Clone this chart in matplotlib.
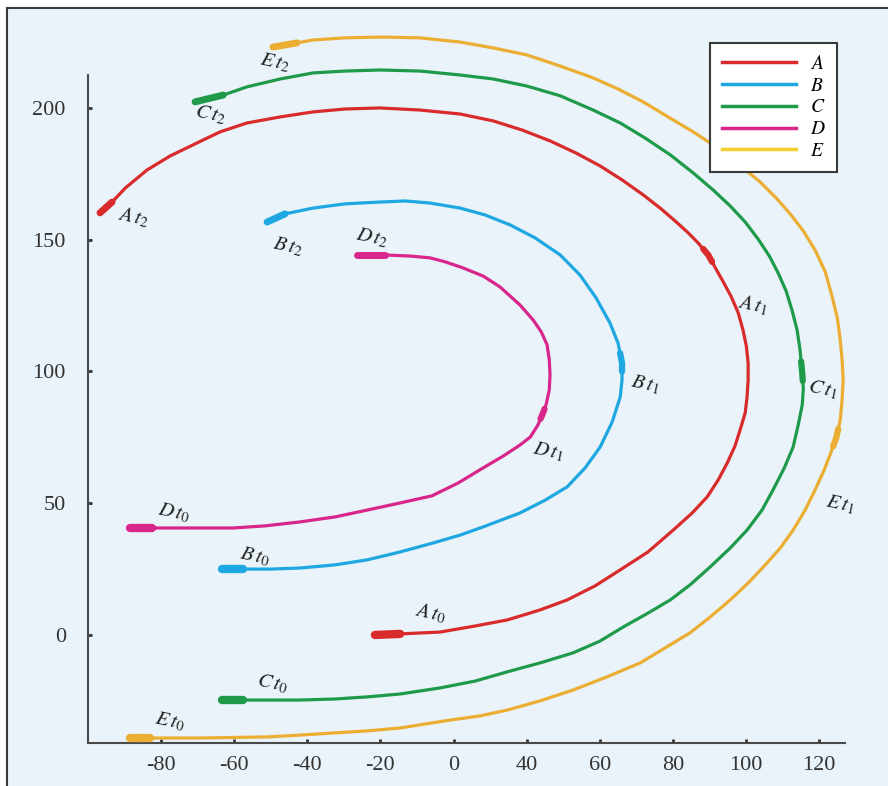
import numpy as np
import matplotlib.pyplot as plt
from matplotlib.lines import Line2D
from matplotlib.patches import Rectangle

plt.rcParams['font.family'] = ['Liberation Serif', 'DejaVu Serif']
plt.rcParams['mathtext.fontset'] = 'stix'

# ---- 轨迹数据 (x 为横轴刻度位置, y 为纵坐标), 顺序 t0 -> t1 -> t2 ----
a_x = [-21.5, -14.6, -3.7, 5.9, 14.7, 23.7, 31.1, 38.7, 45.6, 53.2, 60.1, 65.3,
       69.4, 72.4, 74.9, 77.0, 78.4, 79.8, 80.3, 80.6, 80.6, 80.1, 79.2, 77.9,
       76.0, 73.8, 71.8, 69.7, 66.9, 64.2, 61.2, 56.8, 51.9, 46.1, 40.1, 33.5,
       26.4, 18.8, 10.8, 1.8, -9.1, -20.1, -29.7, -38.4, -47.4, -56.5, -63.9,
       -70.2, -77.5, -83.8, -89.8, -93.4, -96.7]
a_y = [0.0, 0.4, 1.1, 3.4, 5.7, 9.5, 13.3, 18.6, 24.7, 31.5, 39.8, 46.3,
       52.4, 58.8, 65.3, 71.7, 77.8, 84.3, 90.3, 96.8, 103.2, 109.7, 115.7, 122.2,
       128.3, 134.0, 138.9, 144.2, 148.8, 152.6, 156.4, 161.7, 167.0, 172.7, 178.0,
       182.9, 187.5, 191.6, 195.1, 197.7, 199.2, 200.0, 199.6, 198.5, 196.6, 194.3,
       190.9, 186.7, 181.8, 176.5, 169.6, 164.3, 160.2]
a_t1 = 27

b_x = [-63.3, -57.6, -50.2, -42.0, -32.4, -23.6, -14.6, -5.6, 1.8, 8.1, 18.2,
       25.1, 31.1, 36.0, 40.1, 43.4, 45.6, 46.1, 46.1, 45.0, 42.8, 39.0, 34.6,
       29.2, 22.3, 15.5, 8.6, 1.8, -6.4, -13.2, -20.1, -29.7, -38.4, -46.1, -51.0]
b_y = [25.0, 25.0, 25.0, 25.4, 26.6, 28.5, 31.5, 34.9, 37.9, 41.0, 46.3,
       51.2, 56.2, 63.4, 71.3, 80.8, 90.3, 96.8, 103.2, 110.8, 118.4, 127.9, 136.6,
       144.2, 150.7, 155.6, 159.4, 162.0, 163.9, 164.7, 164.3, 163.6, 162.0, 159.8,
       156.7]
b_t1 = 18

c_x = [-63.3, -57.6, -50.2, -42.0, -32.4, -23.6, -14.6, -3.7, 5.9, 14.7, 23.7,
       32.7, 40.1, 46.4, 53.2, 59.3, 64.7, 70.2, 75.7, 80.3, 84.4, 87.4, 90.5,
       92.9, 94.3, 95.4, 95.7, 95.4, 94.8, 94.0, 92.6, 91.0, 88.8, 86.4, 83.3,
       79.8, 75.7, 71.0, 65.6, 59.3, 52.4, 45.6, 38.2, 29.2, 20.1, 10.8, 1.8,
       -9.1, -20.1, -29.7, -38.4, -47.4, -56.5, -63.0, -70.7]
c_y = [-24.7, -24.7, -24.7, -24.7, -24.3, -23.5, -22.4, -20.1, -17.5, -14.0, -10.6,
       -6.8, -2.3, 3.0, 8.3, 13.3, 19.0, 25.8, 33.0, 39.8, 47.4, 55.0, 63.4,
       71.3, 79.7, 87.3, 93.4, 99.4, 108.2, 115.7, 123.3, 130.5, 137.4, 143.8, 150.3,
       156.7, 162.8, 168.9, 175.3, 182.2, 188.6, 194.3, 199.2, 204.6, 208.3, 211.0,
       212.5, 214.0, 214.4, 214.0, 213.3, 211.0, 208.0, 204.9, 202.3]
c_t1 = 27

d_x = [-88.5, -82.5, -72.1, -60.3, -51.5, -42.0, -32.4, -23.6, -14.6, -5.9, 1.3,
       8.1, 13.6, 18.2, 21.0, 23.1, 24.5, 25.3, 26.2, 26.4, 26.2, 25.6, 24.0,
       21.8, 18.2, 12.7, 8.1, 2.6, -2.3, -6.4, -11.9, -18.7, -26.4]
d_y = [40.6, 40.6, 40.6, 40.6, 41.4, 42.9, 44.8, 47.4, 50.1, 52.8, 57.7,
       63.4, 67.9, 72.1, 75.1, 79.7, 84.3, 87.3, 93.0, 98.7, 104.4, 110.1, 115.0,
       119.5, 125.2, 132.1, 136.2, 139.3, 141.6, 143.1, 143.8, 144.2, 144.2]
d_t1 = 16

e_x = [-88.5, -83.0, -69.3, -51.0, -42.0, -32.9, -23.6, -14.6, -7.8, -0.9, 7.3,
       14.7, 23.7, 32.7, 42.0, 51.1, 57.9, 64.7, 70.2, 75.7, 80.6, 85.3, 89.4,
       92.9, 96.2, 98.9, 101.4, 103.0, 104.7, 105.8, 106.3, 106.6, 106.3, 105.8,
       105.0, 103.6, 101.7, 98.9, 95.7, 92.1, 88.3, 83.9, 79.2, 74.9, 70.2, 65.6,
       58.7, 51.9, 45.0, 38.2, 29.2, 20.1, 10.8, 1.8, -9.1, -20.1, -29.7, -38.4,
       -42.8, -49.4]
e_y = [-39.1, -39.1, -39.1, -38.7, -38.0, -37.2, -36.4, -35.3, -33.8, -32.3, -30.7,
       -28.5, -25.0, -20.9, -15.9, -10.6, -4.9, 0.8, 6.8, 13.3, 19.7, 26.6, 33.0,
       39.8, 47.4, 55.0, 62.6, 68.3, 74.8, 81.6, 89.2, 96.8, 104.4, 112.0,
       120.3, 128.3, 137.8, 146.1, 153.3, 159.8, 165.8, 171.9, 177.2, 182.2, 186.7,
       190.9, 196.6, 202.3, 207.2, 211.4, 215.9, 220.1, 222.8, 225.0, 226.6, 226.9,
       226.6, 225.8, 224.7, 223.1]
e_t1 = 28

names = ['A', 'B', 'C', 'D', 'E']
line_colors = ['#d92b2b', '#1ea7e1', '#1f9a4a', '#d8268b', '#ebae33']
legend_colors = ['#d92b2b', '#1ea7e1', '#1f9a4a', '#d8268b', '#f3cf2e']

x_ticks = [-80, -60, -40, -20, 0, 20, 40, 60, 80, 100]
x_ticklabels = ['-80', '-60', '-40', '-20', '0', '40', '60', '80', '100', '120']
y_ticks = [0, 50, 100, 150, 200]

# 标注偏移 (像素): t0, t1, t2
label_offsets = {
    'A': [(55, 22), (44, -50), (33, -5)],
    'B': [(33, 12), (23, -22), (21, -25)],
    'C': [(50, 16), (20, -17), (15, -13)],
    'D': [(44, 15), (5, -39), (15, 17)],
    'E': [(40, 16), (4, -67), (2, -16)],
}

curves = {
    'A': (a_x, a_y, a_t1),
    'B': (b_x, b_y, b_t1),
    'C': (c_x, c_y, c_t1),
    'D': (d_x, d_y, d_t1),
    'E': (e_x, e_y, e_t1),
}

W, H = 888, 786
fig = plt.figure(figsize=(W / 100, H / 100), dpi=100)
fig.patch.set_facecolor('white')
fig.patches.append(Rectangle((7 / W, -0.05), 1.2, 1.05 - 8 / H,
                             transform=fig.transFigure, facecolor='#e9f3f9',
                             edgecolor='#3a3a3a', linewidth=1.5, zorder=-10))

ax = fig.add_axes([88 / W, (H - 743) / H, (845 - 88) / W, (743 - 31) / H])
ax.set_zorder(1)
ax.set_facecolor('none')
ax.set_xlim(-100, 107.1)
ax.set_ylim(-41, 229.2)


def mid_seg(x, y, i, frac=0.5):
    # t1 处的短粗标记, 以第 i 点为中心
    return ([x[i] - frac * (x[i] - x[i - 1]), x[i], x[i] + frac * (x[i + 1] - x[i])],
            [y[i] - frac * (y[i] - y[i - 1]), y[i], y[i] + frac * (y[i + 1] - y[i])])


for name, col in zip(names, line_colors):
    x, y, t1 = curves[name]
    ax.plot(x, y, color=col, lw=2.3, solid_capstyle='round',
            solid_joinstyle='round', zorder=3)
    ax.plot(x[:2], y[:2], color=col, lw=6, solid_capstyle='round', zorder=4)
    ax.plot(x[-2:], y[-2:], color=col, lw=5, solid_capstyle='round', zorder=4)
    sx, sy = mid_seg(x, y, t1)
    ax.plot(sx, sy, color=col, lw=4.5, solid_capstyle='round',
            solid_joinstyle='round', zorder=4)

    anchors = [(x[0], y[0]), (x[t1], y[t1]), (x[-1], y[-1])]
    for k, (pt, off) in enumerate(zip(anchors, label_offsets[name])):
        ax.annotate(rf'${name}\,t_{k}$', xy=pt, xytext=off,
                    textcoords='offset pixels', ha='center', va='center',
                    fontsize=15, color='#222222', rotation=-12, zorder=5)

for s in ['top', 'right']:
    ax.spines[s].set_visible(False)
for s in ['left', 'bottom']:
    ax.spines[s].set_color('#4a4a4a')
    ax.spines[s].set_linewidth(1.5)
ax.spines['left'].set_bounds(-41, 212.5)

ax.set_xticks(x_ticks)
ax.set_xticklabels(x_ticklabels)
ax.set_yticks(y_ticks)
ax.tick_params(axis='both', direction='in', length=3, width=2,
               colors='#333333', labelsize=16)
ax.tick_params(axis='x', pad=9)
ax.tick_params(axis='y', pad=16)

handles = [Line2D([], [], color=c, lw=2.5) for c in legend_colors]
leg = fig.legend(handles, [rf'${n}$' for n in names],
                 loc='upper right', bbox_to_anchor=(837 / W, 1 - 43 / H),
                 borderaxespad=0, fontsize=14, handlelength=3.8,
                 handletextpad=0.7, labelspacing=0.22, borderpad=0.6,
                 fancybox=False, framealpha=1, facecolor='white',
                 edgecolor='#3a3a3a')
leg.get_frame().set_linewidth(1.5)
leg.set_zorder(5)

plt.savefig('out.png', dpi=100, facecolor=fig.get_facecolor())
